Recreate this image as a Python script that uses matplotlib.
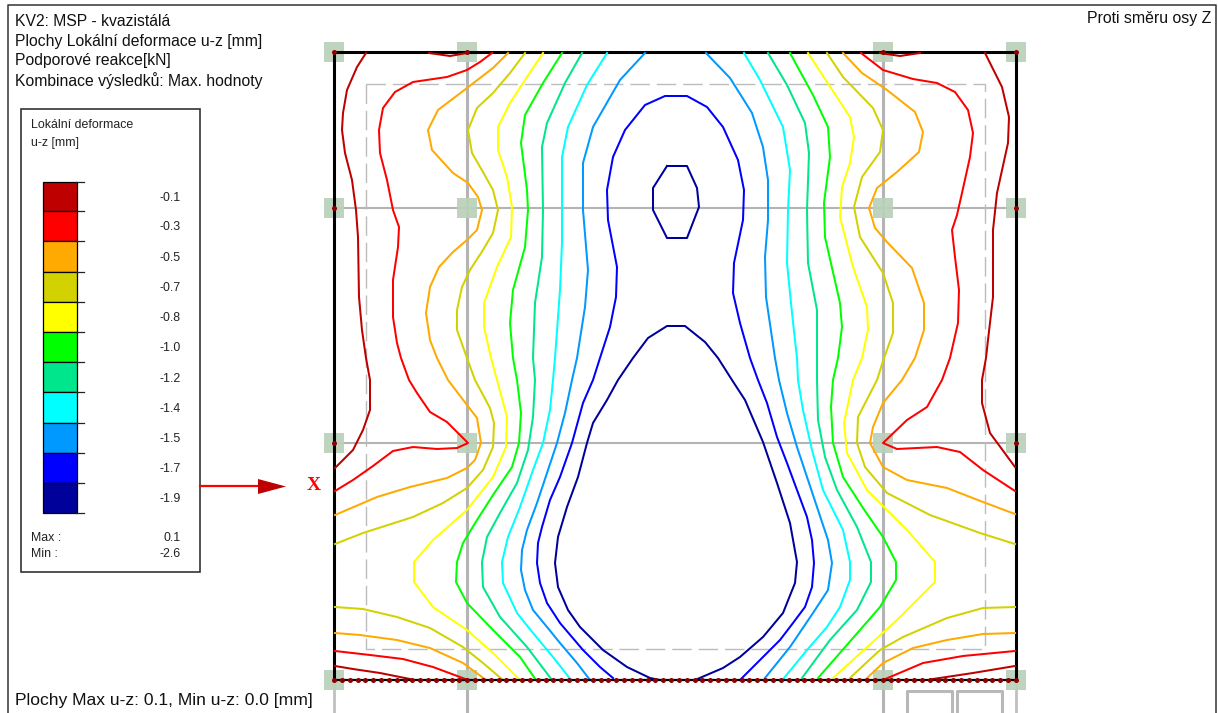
import numpy as np
import matplotlib
matplotlib.use('Agg')
import matplotlib.pyplot as plt
from matplotlib.patches import Rectangle, Polygon

plt.rcParams['font.family'] = ['Liberation Sans', 'DejaVu Sans']

# legend
legend_values = ['-0.1', '-0.3', '-0.5', '-0.7', '-0.8', '-1.0', '-1.2', '-1.4', '-1.5', '-1.7', '-1.9']
legend_colors = ['#BF0000', '#FF0000', '#FFAA00', '#D2D200', '#FFFF00', '#00FF00',
                 '#00E68C', '#00FFFF', '#0099FF', '#0000FF', '#00009B']
legend_edges = [182, 211, 241, 271.5, 301.5, 331.5, 362, 392, 422.5, 452.5, 483, 513]

title_lines = ['KV2: MSP - kvazistálá', 'Plochy Lokální deformace u-z [mm]',
               'Podporové reakce[kN]', 'Kombinace výsledků: Max. hodnoty']

# contour lines, (x, y) on the plate
dark_red = [
    [(366, 53), (357, 67), (347, 90), (343, 113), (342, 130), (345, 153), (352, 180), (356, 210), (358, 237),
     (359, 297), (362, 330), (366, 358), (370, 380), (370, 410), (363, 430), (353, 450), (335, 468)],
    [(429, 53), (450, 56), (467, 53)],
    [(335, 666), (353, 669), (380, 673), (410, 679)],
    [(985, 53), (1002, 87), (1009, 117), (1008, 143), (997, 193), (993, 230), (993, 297), (988, 340), (986, 358),
     (982, 380), (982, 403), (990, 433), (1015, 467)],
    [(880, 53), (900, 56), (920, 53)],
    [(1015, 666), (973, 673), (933, 679)],
]
red = [
    [(492, 53), (480, 62), (467, 70), (447, 77), (413, 82), (395, 92), (383, 108), (379, 130), (380, 153),
     (387, 180), (393, 210), (399, 227), (398, 247), (393, 280), (393, 317), (397, 343), (401, 358), (409, 380),
     (417, 393), (430, 412), (447, 422), (458, 433), (468, 443), (457, 448), (437, 449), (413, 447), (393, 451),
     (373, 466), (353, 480), (335, 491)],
    [(335, 651), (370, 655), (403, 659), (433, 667), (468, 680)],
    [(861, 53), (883, 70), (913, 79), (937, 83), (955, 92), (968, 110), (973, 133), (970, 157), (962, 193),
     (957, 215), (952, 230), (955, 257), (959, 290), (958, 323), (950, 358), (942, 380), (927, 407), (907, 420),
     (883, 443), (897, 449), (937, 447), (960, 452), (983, 470), (1015, 491)],
    [(1015, 651), (963, 656), (923, 663), (883, 680)],
]
orange = [
    [(508, 53), (493, 68), (467, 88), (438, 110), (428, 130), (432, 150), (453, 173), (468, 183), (478, 197),
     (482, 210), (477, 230), (467, 240), (453, 252), (439, 267), (430, 287), (426, 313), (430, 340), (437, 358),
     (448, 380), (467, 405), (477, 418), (481, 443), (475, 460), (467, 468), (447, 478), (410, 487), (377, 497),
     (335, 515)],
    [(335, 633), (360, 635), (397, 640), (430, 648), (463, 663), (486, 680)],
    [(843, 53), (862, 73), (887, 90), (915, 112), (923, 132), (919, 152), (897, 172), (877, 188), (869, 208),
     (875, 228), (887, 242), (912, 268), (924, 303), (924, 330), (915, 358), (902, 380), (883, 403), (873, 427),
     (870, 443), (883, 467), (907, 480), (947, 488), (983, 502), (1015, 514)],
    [(1015, 633), (983, 634), (947, 640), (913, 648), (883, 663), (865, 680)],
]
olive = [
    [(525, 53), (510, 73), (493, 93), (477, 108), (468, 130), (472, 153), (483, 172), (493, 190), (498, 210),
     (493, 233), (483, 250), (470, 270), (462, 287), (457, 310), (457, 330), (467, 358), (475, 380), (490, 408),
     (494, 423), (493, 447), (483, 470), (467, 488), (443, 503), (413, 517), (363, 533), (335, 544)],
    [(335, 607), (363, 609), (397, 617), (430, 628), (463, 647), (483, 663), (503, 680)],
    [(827, 53), (843, 77), (873, 108), (883, 130), (880, 152), (862, 177), (854, 207), (860, 237), (883, 273),
     (893, 303), (893, 333), (884, 358), (877, 380), (858, 417), (857, 443), (865, 467), (887, 493), (930, 515),
     (980, 533), (1015, 544)],
    [(1015, 607), (983, 608), (947, 618), (903, 637), (880, 650), (850, 678)],
]
yellow = [
    [(543, 53), (527, 77), (510, 103), (498, 127), (498, 150), (507, 177), (512, 207), (511, 237), (497, 267),
     (484, 303), (484, 327), (491, 358), (497, 380), (507, 417), (506, 447), (493, 477), (467, 510), (433, 540),
     (414, 562), (414, 582), (433, 607), (467, 630), (493, 653), (520, 680)],
    [(808, 53), (827, 82), (850, 117), (854, 137), (850, 163), (842, 187), (840, 217), (853, 267), (867, 307),
     (868, 330), (862, 358), (853, 380), (844, 423), (847, 453), (867, 490), (907, 530), (935, 562), (935, 582),
     (897, 620), (833, 678)],
]
green = [
    [(562, 53), (543, 83), (525, 115), (521, 143), (527, 190), (528, 210), (525, 247), (513, 290), (510, 323),
     (513, 358), (517, 380), (521, 413), (519, 443), (512, 467), (493, 495), (477, 520), (463, 543), (457, 562),
     (456, 582), (467, 603), (493, 630), (520, 657), (536, 680)],
    [(790, 53), (813, 95), (828, 127), (830, 157), (824, 203), (825, 237), (840, 303), (842, 327), (838, 358),
     (833, 380), (831, 407), (833, 443), (843, 477), (863, 508), (883, 537), (896, 562), (896, 580), (880, 607),
     (860, 630), (818, 678)],
]
teal = [
    [(582, 53), (565, 83), (547, 123), (542, 147), (543, 210), (542, 257), (535, 303), (533, 358), (535, 380),
     (533, 417), (528, 450), (517, 483), (500, 513), (487, 537), (482, 562), (483, 587), (500, 617), (527, 647),
     (552, 680)],
    [(768, 53), (787, 85), (805, 123), (809, 153), (807, 210), (808, 263), (817, 310), (817, 358), (817, 380),
     (818, 420), (825, 457), (837, 490), (857, 527), (871, 562), (871, 582), (857, 610), (830, 640), (802, 678)],
]
cyan = [
    [(607, 53), (587, 85), (568, 127), (562, 157), (562, 243), (560, 290), (555, 358), (553, 380), (550, 410),
     (543, 443), (533, 470), (520, 507), (508, 537), (502, 562), (503, 583), (517, 613), (533, 633), (553, 657),
     (571, 680)],
    [(744, 53), (760, 80), (783, 127), (790, 170), (788, 210), (787, 263), (792, 313), (797, 358), (798, 380),
     (803, 410), (812, 450), (823, 490), (843, 530), (850, 562), (850, 580), (840, 607), (827, 627), (807, 650),
     (784, 678)],
]
azure = [
    [(645, 53), (620, 80), (593, 127), (583, 163), (583, 210), (588, 270), (585, 307), (577, 358), (572, 380),
     (565, 413), (557, 443), (547, 473), (537, 503), (527, 530), (522, 550), (521, 570), (525, 590), (533, 610),
     (547, 627), (560, 643), (577, 663), (590, 680)],
    [(706, 53), (730, 78), (752, 113), (763, 147), (768, 180), (768, 220), (765, 257), (766, 297), (775, 358),
     (779, 380), (787, 413), (797, 447), (807, 477), (817, 507), (828, 540), (832, 563), (828, 590), (813, 613),
     (790, 647), (765, 678)],
]
blue = [
    [(613, 678), (600, 667), (583, 650), (560, 623), (547, 603), (540, 583), (537, 563), (538, 543), (542, 527),
     (550, 500), (560, 477), (572, 443), (583, 403), (593, 380), (600, 358), (610, 327), (616, 297), (617, 267),
     (608, 220), (607, 190), (613, 157), (625, 130), (645, 105), (665, 96), (687, 96), (707, 107), (723, 127),
     (738, 160), (744, 190), (743, 220), (734, 263), (733, 293), (740, 323), (750, 358), (758, 380), (767, 403),
     (777, 437), (787, 463), (797, 490), (807, 517), (812, 540), (814, 563), (812, 587), (805, 607), (793, 623),
     (780, 640), (760, 660), (740, 680)],
]
navy = [
    [(667, 166), (653, 188), (653, 210), (667, 238), (687, 238), (699, 207), (697, 188), (687, 166), (667, 166)],
    [(660, 680), (650, 678), (627, 667), (603, 650), (580, 627), (568, 610), (558, 587), (555, 563), (558, 537),
     (567, 507), (578, 477), (587, 443), (593, 423), (607, 400), (618, 380), (633, 358), (648, 338), (667, 326),
     (685, 326), (705, 342), (718, 358), (732, 380), (745, 400), (763, 442), (777, 483), (790, 523), (797, 562),
     (795, 583), (783, 613), (763, 637), (740, 657), (723, 668), (695, 680)],
]
contours = [dark_red, red, orange, olive, yellow, green, teal, cyan, azure, blue, navy]

# model geometry
plate_x = [334, 1016]
plate_y = [52, 680]
support_x = [334, 467, 883, 1016]
support_y = [52, 208, 443, 680]
inner_x = [366, 985]
inner_y = [84, 649]

fig = plt.figure(figsize=(12.18, 7.13), dpi=100)
ax = fig.add_axes([0, 0, 1, 1])
ax.set_xlim(0, 1218)
ax.set_ylim(713, 0)
ax.axis('off')

# outer frame
ax.plot([8, 8, 1215.5, 1215.5], [713, 4.5, 4.5, 713], color='#333333', lw=1.1, zorder=1)

# grid and supports
for x in support_x[1:3]:
    ax.plot([x, x], [plate_y[0], 713], color='#b4b4b4', lw=2.2, zorder=2)
for x in [support_x[0], support_x[3]]:
    ax.plot([x, x], [plate_y[1], 713], color='#c0c0c0', lw=2.0, zorder=2)
for y in support_y[1:3]:
    ax.plot(plate_x, [y, y], color='#b4b4b4', lw=1.5, zorder=2)
for x0, x1 in [(907, 952), (957, 1002)]:
    ax.plot([x0, x0, x1, x1], [713, 691, 691, 713], color='#b8b8b8', lw=2.2, zorder=2)
ax.plot([inner_x[0], inner_x[1], inner_x[1], inner_x[0], inner_x[0]],
        [inner_y[0], inner_y[0], inner_y[1], inner_y[1], inner_y[0]],
        color='#bcbcbc', lw=1.0, dashes=(14, 5), zorder=2)
for x in support_x:
    for y in support_y:
        ax.add_patch(Rectangle((x - 10, y - 10), 20, 20, fc='#b9d1b9', ec='none', alpha=0.92, zorder=3))

# plate outline
ax.plot([plate_x[0], plate_x[0], plate_x[1], plate_x[1]], [plate_y[1], plate_y[0], plate_y[0], plate_y[1]],
        color='black', lw=2.2, zorder=4)
ax.plot(plate_x, [plate_y[1], plate_y[1]], color='black', lw=1.6, zorder=6)

# contours
for color, segments in zip(legend_colors, contours):
    for seg in segments:
        xs, ys = zip(*seg)
        ax.plot(xs, ys, color=color, lw=1.45, zorder=5, solid_joinstyle='round')

# nodes
ax.scatter(np.linspace(plate_x[0], plate_x[1], 88), np.full(88, plate_y[1]), s=13, color='#8b0000', lw=0, zorder=7)
for x in [support_x[0], support_x[3]]:
    ax.scatter([x, x, x], support_y[:3], s=13, color='#8b0000', lw=0, zorder=7)
ax.scatter(support_x[1:3], [plate_y[0], plate_y[0]], s=13, color='#8b0000', lw=0, zorder=7)

# header text
for line, y in zip(title_lines, [22, 41.5, 61, 80.5]):
    ax.text(15, y, line, fontsize=11.3, va='center', ha='left', color='#111111')
ax.text(1211, 18, 'Proti směru osy Z', fontsize=11.4, va='center', ha='right', color='#111111')
ax.text(15, 701, 'Plochy Max u-z: 0.1, Min u-z: 0.0 [mm]', fontsize=12.6, va='center', ha='left', color='#111111')

# legend box
ax.add_patch(Rectangle((20.5, 109), 179, 463, fc='white', ec='#333333', lw=1.2, zorder=8))
ax.text(31, 125.5, 'Lokální deformace', fontsize=8.9, va='center', color='#222222', zorder=9)
ax.text(31, 143, 'u-z [mm]', fontsize=8.9, va='center', color='#222222', zorder=9)
for i, color in enumerate(legend_colors):
    y0, y1 = legend_edges[i], legend_edges[i + 1]
    ax.add_patch(Rectangle((42.5, y0), 34, y1 - y0, fc=color, ec='black', lw=0.9, zorder=9))
    ax.text(181, (y0 + y1) / 2 + 1.5, legend_values[i], fontsize=8.9, va='center', ha='right', color='#222222', zorder=9)
for y in legend_edges:
    ax.plot([76, 84], [y, y], color='#222222', lw=0.9, zorder=9)
ax.text(31, 538, 'Max :', fontsize=8.9, va='center', color='#222222', zorder=9)
ax.text(31, 554, 'Min :', fontsize=8.9, va='center', color='#222222', zorder=9)
ax.text(181, 538, '0.1', fontsize=8.9, va='center', ha='right', color='#222222', zorder=9)
ax.text(181, 554, '-2.6', fontsize=8.9, va='center', ha='right', color='#222222', zorder=9)

# direction arrow
ax.plot([199.5, 260], [486, 486], color='#ff0000', lw=1.6, zorder=8)
ax.add_patch(Polygon([(258, 479), (286, 486.5), (258, 494)], fc='#bf0000', ec='none', zorder=8))
ax.text(313.5, 486, 'X', family='Liberation Serif', fontweight='bold', fontsize=14, va='center', ha='center',
        color='#ff0000', zorder=8)

fig.savefig('out.png', dpi=100)
